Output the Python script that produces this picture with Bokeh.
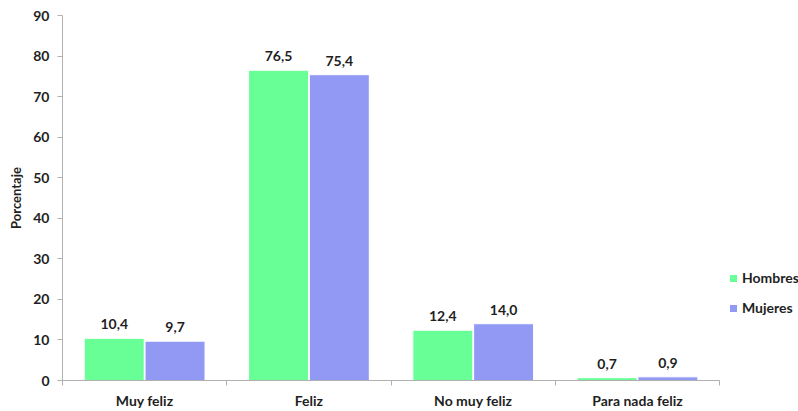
from bokeh.plotting import figure
from bokeh.models import ColumnDataSource, FixedTicker, Legend, LegendItem, Range1d, LabelSet
from bokeh.core.properties import value
from bokeh.embed import file_html
from bokeh.resources import INLINE

categories = ["Muy feliz", "Feliz", "No muy feliz", "Para nada feliz"]
hombres = [10.4, 76.5, 12.4, 0.7]
mujeres = [9.7, 75.4, 14.0, 0.9]
series_names = ["Hombres", "Mujeres"]
y_ticks = [0, 10, 20, 30, 40, 50, 60, 70, 80, 90]

FONT = "Lato"
TXT = "#1f1f1f"
AX = "#b0b0b0"
GREEN = "#69FF97"
BLUE = "#9199F5"

n = len(categories)
idx = list(range(n))
fmt = lambda v: f"{v:.1f}".replace(".", ",")

src_h = ColumnDataSource(dict(x=[i + 0.5 - 0.185 for i in idx], top=hombres, lab=[fmt(v) for v in hombres]))
src_m = ColumnDataSource(dict(x=[i + 0.5 + 0.185 for i in idx], top=mujeres, lab=[fmt(v) for v in mujeres]))

# frame extends to the right edge (room for legend); axis line bounded to the categories
p = figure(width=798, height=411, output_backend="svg", toolbar_location=None,
           x_range=Range1d(0, n * 1.12), y_range=Range1d(0, 90),
           min_border_left=62, min_border_right=0, min_border_top=15, min_border_bottom=31)
p.outline_line_color = None
p.xgrid.visible = False
p.ygrid.visible = False

rh = p.vbar(x="x", top="top", width=0.365, source=src_h, fill_color=GREEN, line_color="white", line_width=1)
rm = p.vbar(x="x", top="top", width=0.365, source=src_m, fill_color=BLUE, line_color="white", line_width=1)

for s in (src_h, src_m):
    p.add_layout(LabelSet(x="x", y="top", text="lab", source=s, text_align="center", text_baseline="bottom",
                          y_offset=9, text_font=value(FONT), text_font_style="bold", text_font_size="14px",
                          text_color=TXT))

# x axis: labels at centers, ticks at boundaries
xa = p.xaxis[0]
xa.bounds = (0, n)
xa.ticker = FixedTicker(ticks=[i + 0.5 for i in idx], minor_ticks=[float(i) for i in range(n + 1)])
xa.major_label_overrides = {i + 0.5: c for i, c in zip(idx, categories)}
xa.major_tick_out = 0
xa.major_tick_in = 0
xa.minor_tick_out = 5
xa.minor_tick_in = 0
xa.minor_tick_line_color = AX
xa.axis_line_color = AX
xa.major_label_standoff = 6
xa.major_label_text_font = FONT
xa.major_label_text_font_style = "bold"
xa.major_label_text_font_size = "14px"
xa.major_label_text_color = TXT

ya = p.yaxis[0]
ya.ticker = FixedTicker(ticks=y_ticks)
ya.minor_tick_line_color = None
ya.major_tick_out = 5
ya.major_tick_in = 0
ya.major_tick_line_color = AX
ya.axis_line_color = AX
ya.major_label_standoff = 8
ya.major_label_text_font = FONT
ya.major_label_text_font_style = "bold"
ya.major_label_text_font_size = "14px"
ya.major_label_text_color = TXT
ya.axis_label = "Porcentaje"
ya.axis_label_text_font = FONT
ya.axis_label_text_font_style = "bold"
ya.axis_label_text_font_size = "13px"
ya.axis_label_text_color = TXT
ya.axis_label_standoff = 6

legend = Legend(items=[LegendItem(label=series_names[0], renderers=[rh]),
                       LegendItem(label=series_names[1], renderers=[rm])],
                location=(666, 64), orientation="vertical",
                glyph_width=10, glyph_height=10, label_standoff=4, spacing=13,
                padding=0, margin=0, border_line_color=None, background_fill_alpha=0,
                label_text_font=FONT, label_text_font_style="bold", label_text_font_size="14px",
                label_text_color=TXT, label_height=14)
p.add_layout(legend, "center")

open("out.html", "w").write(file_html(p, INLINE))
